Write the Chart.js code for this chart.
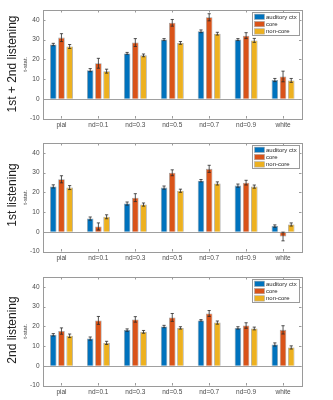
<!DOCTYPE html>
<html>
<head>
<meta charset="utf-8">
<script src="https://cdn.jsdelivr.net/npm/chart.js@4/dist/chart.umd.min.js"></script>
<style>
  body { margin: 0; background: #fff; width: 333px; height: 400px; position: relative; overflow: hidden; font-family: "Liberation Sans", Arial, sans-serif; }
  canvas { position: absolute; left: 0; }
  .rowlab { position: absolute; left: 12px; transform: translate(-50%, -50%) rotate(-90deg); white-space: nowrap; font-size: 12px; color: #222; }
</style>
</head>
<body>
<canvas id="both" width="333" height="133" style="top:0px"></canvas>
<canvas id="first" width="333" height="133" style="top:133px"></canvas>
<canvas id="second" width="333" height="133" style="top:267px"></canvas>
<div class="rowlab" style="top:64px">1st + 2nd listening</div>
<div class="rowlab" style="top:195px">1st listening</div>
<div class="rowlab" style="top:330px">2nd listening</div>
<script>
const categories = ['pial', 'nd=0.1', 'nd=0.3', 'nd=0.5', 'nd=0.7', 'nd=0.9', 'white'];
const seriesNames = ['auditory ctx', 'core', 'non-core'];
const colors = ['#0072BD', '#D95319', '#EDB120'];

// 1st + 2nd listening
const bothCtx = [27.5, 14.5, 23.0, 30.0, 34.2, 30.0, 9.5];
const bothCtxErr = [0.6, 0.8, 0.5, 0.5, 0.7, 0.5, 0.8];
const bothCore = [31.0, 18.0, 28.5, 38.5, 41.3, 32.0, 11.3];
const bothCoreErr = [2.0, 2.5, 2.0, 1.7, 1.8, 1.5, 2.7];
const bothNon = [26.5, 14.0, 22.0, 28.3, 33.0, 29.6, 9.3];
const bothNonErr = [1.0, 1.0, 0.7, 0.7, 0.7, 1.0, 1.0];

// 1st listening
const firstCtx = [23.0, 6.7, 14.3, 22.4, 25.9, 23.4, 2.9];
const firstCtxErr = [0.8, 0.8, 0.8, 0.8, 0.6, 0.8, 0.6];
const firstCore = [26.6, 2.7, 17.3, 29.9, 31.9, 24.9, -2.4];
const firstCoreErr = [1.8, 1.8, 2.0, 1.5, 1.8, 1.2, 2.2];
const firstNon = [22.4, 7.6, 13.8, 20.8, 24.5, 22.9, 3.7];
const firstNonErr = [1.0, 1.0, 0.8, 0.8, 0.8, 0.8, 0.8];

// 2nd listening
const secondCtx = [15.7, 13.8, 18.1, 19.9, 23.0, 19.2, 10.8];
const secondCtxErr = [0.6, 0.8, 0.6, 0.6, 0.4, 0.6, 0.8];
const secondCore = [17.6, 23.0, 23.5, 24.5, 26.5, 20.4, 18.2];
const secondCoreErr = [1.6, 2.0, 1.4, 2.0, 1.5, 1.4, 2.1];
const secondNon = [15.2, 11.6, 17.2, 19.2, 21.9, 18.9, 9.3];
const secondNonErr = [0.9, 0.8, 0.7, 0.6, 0.8, 0.7, 0.8];

const yMin = -10, yMax = 45, yStep = 10;

const matlabAxes = {
  id: 'matlabAxes',
  afterDatasetsDraw(chart) {
    const ctx = chart.ctx;
    const a = chart.chartArea;
    const xs = chart.scales.x, ys = chart.scales.y;
    ctx.save();

    // baseline at zero
    const y0 = Math.round(ys.getPixelForValue(0)) + 0.5;
    ctx.strokeStyle = '#a0a0a0';
    ctx.lineWidth = 1;
    ctx.beginPath(); ctx.moveTo(a.left, y0); ctx.lineTo(a.right, y0); ctx.stroke();

    // error bars
    ctx.strokeStyle = '#2a2a2a';
    ctx.lineWidth = 0.8;
    chart.data.datasets.forEach((ds, i) => {
      const meta = chart.getDatasetMeta(i);
      meta.data.forEach((bar, j) => {
        const v = ds.data[j], e = ds.errors[j];
        const yt = ys.getPixelForValue(v + e), yb = ys.getPixelForValue(v - e);
        ctx.beginPath();
        ctx.moveTo(bar.x, yt); ctx.lineTo(bar.x, yb);
        ctx.moveTo(bar.x - 1.6, yt); ctx.lineTo(bar.x + 1.6, yt);
        ctx.moveTo(bar.x - 1.6, yb); ctx.lineTo(bar.x + 1.6, yb);
        ctx.stroke();
      });
    });

    // box and inner ticks
    ctx.strokeStyle = '#9a9a9a';
    ctx.lineWidth = 1;
    ctx.strokeRect(Math.round(a.left) + 0.5, Math.round(a.top) + 0.5, Math.round(a.right - a.left), Math.round(a.bottom - a.top));
    ctx.beginPath();
    ys.ticks.forEach(t => {
      const y = Math.round(ys.getPixelForValue(t.value)) + 0.5;
      ctx.moveTo(a.left, y); ctx.lineTo(a.left + 2.5, y);
      ctx.moveTo(a.right, y); ctx.lineTo(a.right - 2.5, y);
    });
    categories.forEach((c, j) => {
      const x = Math.round(xs.getPixelForValue(j)) + 0.5;
      ctx.moveTo(x, a.bottom); ctx.lineTo(x, a.bottom - 2.5);
      ctx.moveTo(x, a.top); ctx.lineTo(x, a.top + 2.5);
    });
    ctx.stroke();

    // legend in the upper right corner
    const lx = Math.round(a.right - 49.5) + 0.5, ly = Math.round(a.top + 2) + 0.5;
    ctx.fillStyle = '#fff';
    ctx.fillRect(lx, ly, 47, 23);
    ctx.strokeStyle = '#9a9a9a';
    ctx.strokeRect(lx, ly, 47, 23);
    ctx.font = '6px "Liberation Sans", Arial, sans-serif';
    ctx.textBaseline = 'middle';
    chart.data.datasets.forEach((ds, i) => {
      const cy = ly + 4.3 + i * 7.3;
      ctx.fillStyle = ds.backgroundColor;
      ctx.fillRect(lx + 2, cy - 2.7, 10, 5.4);
      ctx.strokeStyle = '#aaa';
      ctx.lineWidth = 0.6;
      ctx.strokeRect(lx + 2, cy - 2.7, 10, 5.4);
      ctx.fillStyle = '#262626';
      ctx.fillText(ds.label, lx + 13.5, cy + 0.3);
    });
    ctx.restore();
  }
};

function barChart(id, values, errors) {
  const ctx = document.getElementById(id).getContext('2d');
  return new Chart(ctx, {
    type: 'bar',
    data: {
      labels: categories,
      datasets: seriesNames.map((name, i) => ({
        label: name,
        data: values[i],
        errors: errors[i],
        backgroundColor: colors[i],
        borderColor: 'rgba(150,150,150,0.9)',
        borderWidth: 0.8,
        categoryPercentage: 0.665,
        barPercentage: 0.8
      }))
    },
    options: {
      responsive: false,
      animation: false,
      events: [],
      layout: { padding: { top: 10, right: 31.5, left: 0, bottom: 0 } },
      plugins: { legend: { display: false }, tooltip: { enabled: false } },
      scales: {
        x: {
          grid: { display: false, drawTicks: false },
          border: { display: false },
          ticks: { color: '#4a4a4a', padding: 3, font: { size: 6.5, family: '"Liberation Sans", Arial, sans-serif' }, maxRotation: 0, autoSkip: false },
          afterFit: s => { s.height = 14.5; }
        },
        y: {
          min: yMin,
          max: yMax,
          grid: { display: false, drawTicks: false },
          border: { display: false },
          ticks: { stepSize: yStep, includeBounds: false, color: '#4a4a4a', padding: 3.5, font: { size: 6.5, family: '"Liberation Sans", Arial, sans-serif' } },
          title: { display: true, text: 't-stat.', color: '#3a3a3a', padding: { top: 21.5, bottom: 0 }, font: { size: 6, family: '"Liberation Sans", Arial, sans-serif' } },
          afterFit: s => { s.width = 43; }
        }
      }
    },
    plugins: [matlabAxes]
  });
}

barChart('both', [bothCtx, bothCore, bothNon], [bothCtxErr, bothCoreErr, bothNonErr]);
barChart('first', [firstCtx, firstCore, firstNon], [firstCtxErr, firstCoreErr, firstNonErr]);
barChart('second', [secondCtx, secondCore, secondNon], [secondCtxErr, secondCoreErr, secondNonErr]);
</script>
</body>
</html>
